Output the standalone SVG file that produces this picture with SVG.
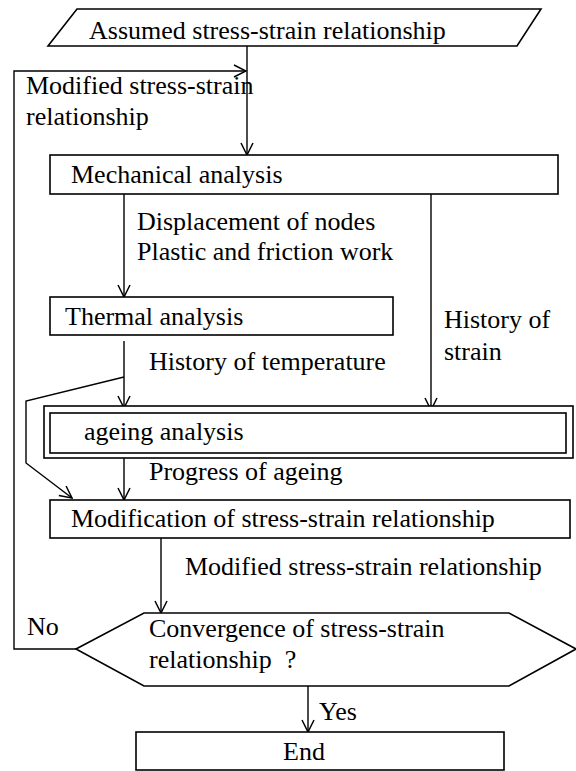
<svg xmlns="http://www.w3.org/2000/svg" width="576" height="771" viewBox="0 0 576 771">
<defs>
<style>
text{font-family:"Liberation Serif","Times New Roman",serif;font-size:26px;fill:#000}
.box{fill:#fff;stroke:#000;stroke-width:1.6}
.ln{fill:none;stroke:#000;stroke-width:1.4}
</style>
<marker id="arr" viewBox="0 0 14 14" refX="13" refY="7" markerWidth="14" markerHeight="14" orient="auto" markerUnits="userSpaceOnUse">
<path d="M1,1 L13,7 L1,13" fill="none" stroke="#000" stroke-width="1.5"/>
</marker>
</defs>
<rect width="576" height="771" fill="#fff"/>
<g id="connectors">
<path class="ln" d="M247,46 V155" marker-end="url(#arr)"/>
<path class="ln" d="M76,649 H14 V71 H246" marker-end="url(#arr)"/>
<path class="ln" d="M124,194 V297" marker-end="url(#arr)"/>
<path class="ln" d="M431,194 V410" marker-end="url(#arr)"/>
<path class="ln" d="M124,341 V408" marker-end="url(#arr)"/>
<path class="ln" d="M124,377 L26,401 V463 L72,498" marker-end="url(#arr)"/>
<path class="ln" d="M124,453 V500" marker-end="url(#arr)"/>
<path class="ln" d="M161,538 V613" marker-end="url(#arr)"/>
<path class="ln" d="M308,686 V732" marker-end="url(#arr)"/>
</g>
<g id="labels">
<text x="26" y="94">Modified stress-strain</text>
<text x="26" y="125">relationship</text>
<text x="137" y="230">Displacement of nodes</text>
<text x="137" y="260">Plastic and friction work</text>
<text x="444" y="328">History of</text>
<text x="444" y="360">strain</text>
<text x="149" y="370">History of temperature</text>
<text x="149" y="480">Progress of ageing</text>
<text x="185" y="575">Modified stress-strain relationship</text>
<text x="27" y="635">No</text>
<text x="319" y="720">Yes</text>
</g>
<g id="start">
<polygon class="box" points="77,9 541,9 517,46 48,46"/>
<text x="89" y="39">Assumed stress-strain relationship</text>
</g>
<g id="mechanical">
<rect class="box" x="50" y="155" width="508" height="39"/>
<text x="71" y="183">Mechanical analysis</text>
</g>
<g id="thermal">
<rect class="box" x="50" y="297" width="343" height="38"/>
<text x="65" y="325">Thermal analysis</text>
</g>
<g id="ageing">
<rect class="box" x="44" y="406" width="529" height="52"/>
<rect class="box" x="50" y="413" width="516" height="40"/>
<text x="84" y="440">ageing analysis</text>
</g>
<g id="modification">
<rect class="box" x="50" y="500" width="520" height="38"/>
<text x="71" y="527">Modification of stress-strain relationship</text>
</g>
<g id="convergence">
<polygon class="box" points="76,649 144,613 509,613 576,649 509,686 144,686"/>
<text x="149" y="637">Convergence of stress-strain</text>
<text x="149" y="668" xml:space="preserve">relationship  ?</text>
</g>
<g id="end">
<rect class="box" x="136" y="732" width="368" height="38"/>
<text x="283" y="760">End</text>
</g>
</svg>
